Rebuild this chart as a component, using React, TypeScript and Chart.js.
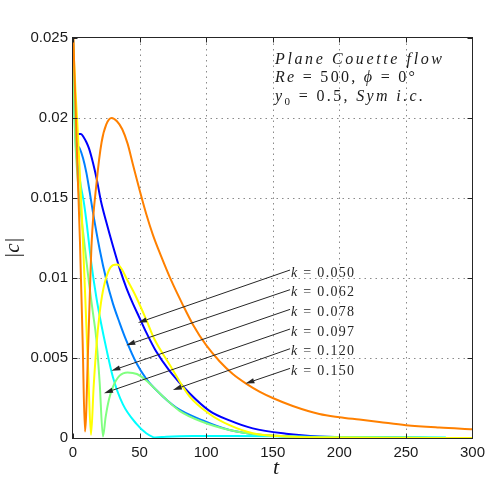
import { useEffect, useRef } from 'react';
import { Chart, registerables } from 'chart.js';

Chart.register(...registerables);

// ---------- data ----------
const xTicks = [0, 50, 100, 150, 200, 250, 300];
const xTickLabels = ['0', '50', '100', '150', '200', '250', '300'];
const yTicks = [0, 0.005, 0.01, 0.015, 0.02, 0.025];
const yTickLabels = ['0', '0.005', '0.01', '0.015', '0.02', '0.025'];

const kLabels = ['0.050', '0.062', '0.078', '0.097', '0.120', '0.150'];
const seriesColors = ['#0000ff', '#0080ff', '#00ffff', '#80ff80', '#ffff00', '#ff8000'];

const t050 = [0, 0.7, 1.5, 2.5, 4, 6, 8, 10, 12, 15, 18, 21, 25, 30, 35, 40, 45, 50, 55, 62.5, 72.5, 87.5, 102.5, 117.5, 135, 160, 185, 220, 250, 280];
const c050 = [0.025, 0.0225, 0.0203, 0.0192, 0.019, 0.019, 0.0188, 0.0185, 0.0181, 0.0172, 0.0161, 0.0148, 0.0135, 0.012, 0.0106, 0.0094, 0.0084, 0.0075, 0.0066, 0.0054, 0.0042, 0.0028, 0.0017, 0.0011, 0.0006, 0.00027, 0.0001, 0.00003, 0.00001, 0.000005];

const t062 = [0, 0.7, 1.5, 2.5, 5, 7.5, 10, 12.5, 15, 20, 25, 30, 35, 40, 47.5, 55, 62.5, 77.5, 97.5, 117.5, 140, 170, 210, 250, 280];
const c062 = [0.025, 0.0222, 0.0198, 0.0186, 0.0181, 0.0175, 0.0166, 0.0154, 0.0141, 0.0118, 0.0099, 0.0084, 0.0072, 0.0061, 0.0047, 0.0037, 0.003, 0.0019, 0.0011, 0.0005, 0.0002, 0.00008, 0.00003, 0.00001, 0.000005];

const t078 = [0, 0.7, 1.5, 2.5, 4, 6, 8, 10, 13.8, 17.5, 21, 25, 30, 37.5, 47.5, 55, 62, 70, 90, 120, 160, 200, 240, 280];
const c078 = [0.025, 0.0215, 0.0193, 0.0178, 0.0168, 0.0157, 0.0148, 0.0136, 0.0109, 0.0088, 0.0072, 0.0056, 0.0038, 0.0021, 0.0009, 0.0003, 0.00003, 0.00008, 0.00012, 0.00012, 0.0001, 0.00007, 0.00005, 0.00003];

const t097 = [0, 0.7, 1.5, 3, 5, 8.5, 12, 15, 17.5, 20, 22.5, 24.5, 27, 30, 35, 41, 48, 55, 65, 80, 97.5, 117.5, 140, 170, 210, 250, 280];
const c097 = [0.025, 0.0215, 0.019, 0.0168, 0.0148, 0.0122, 0.0097, 0.0078, 0.0062, 0.0035, 0.0001, 0.0013, 0.0024, 0.0032, 0.0039, 0.0041, 0.004, 0.0036, 0.0028, 0.0017, 0.001, 0.0005, 0.0002, 0.00008, 0.00003, 0.00001, 0.000005];

const t120 = [0, 1, 2, 3.5, 6.5, 9, 11.5, 13.5, 15.5, 17.75, 20, 22.5, 26.5, 30, 33.5, 37, 40, 47.5, 55, 61, 72.5, 87.5, 102.5, 117.5, 135, 160, 200, 250, 300];
const c120 = [0.025, 0.0232, 0.0215, 0.0193, 0.0142, 0.0092, 0.004, 0.0002, 0.0032, 0.0059, 0.0078, 0.0092, 0.0104, 0.0108, 0.01085, 0.0105, 0.01, 0.0088, 0.0074, 0.0062, 0.0046, 0.0026, 0.0015, 0.0008, 0.0003, 0.0001, 0.00003, 0.00001, 0.000005];

const t150 = [0, 1, 2, 3.5, 5.25, 7.25, 9, 11.5, 14, 17.75, 21.5, 25, 29, 33, 37, 41, 45, 50, 55, 60, 66, 74, 82, 90, 100, 110, 120, 130, 140, 150, 165, 185, 200, 215, 230, 250, 275, 300];
const c150 = [0.026, 0.023, 0.0205, 0.0165, 0.0122, 0.006, 0.0004, 0.006, 0.0122, 0.016, 0.0185, 0.0196, 0.02, 0.0198, 0.0193, 0.0184, 0.0171, 0.0155, 0.014, 0.0127, 0.0114, 0.0098, 0.0084, 0.0071, 0.0058, 0.0048, 0.004, 0.0034, 0.0029, 0.0025, 0.002, 0.0015, 0.0013, 0.00115, 0.001, 0.0008, 0.00065, 0.00054];

const seriesT = [t050, t062, t078, t097, t120, t150];
const seriesC = [c050, c062, c078, c097, c120, c150];

// annotation arrows (data coordinates)
const arrowStartT = 163;
const arrowStartC = [0.0105, 0.00927, 0.00804, 0.00681, 0.00558, 0.00435];
const arrowTipT = [48.75, 40, 28.8, 23.3, 75, 129.5];
const arrowTipC = [0.0072, 0.0058, 0.0042, 0.0028, 0.003, 0.0034];

const titleLine1 = 'Plane Couette flow';
const titleRe = 'Re';
const titleReVal = ' = 500, ';
const titlePhi = 'ϕ';
const titlePhiVal = ' = 0°';
const titleY = 'y';
const titleYSub = '0';
const titleYVal = ' = 0.5, ';
const titleSym = 'Sym i.c.';
const xTitle = 't';
const yTitle = '|c|';

// ---------- helpers ----------
type Seg = { s: string; it?: boolean; sub?: boolean };
const SERIF = '"Liberation Serif", "DejaVu Serif", serif';

function drawRuns(ctx: CanvasRenderingContext2D, segs: Seg[], x: number, y: number, size: number, targetW: number) {
  const fontFor = (g: Seg) => `${g.it ? 'italic ' : ''}${g.sub ? Math.round(size * 0.7) : size}px ${SERIF}`;
  let nat = 0;
  let n = 0;
  for (const g of segs) {
    ctx.font = fontFor(g);
    for (const ch of g.s) {
      nat += ctx.measureText(ch).width;
      n++;
    }
  }
  const sp = n > 1 ? (targetW - nat) / (n - 1) : 0;
  let cx = x;
  ctx.textAlign = 'left';
  ctx.textBaseline = 'alphabetic';
  for (const g of segs) {
    ctx.font = fontFor(g);
    for (const ch of g.s) {
      ctx.fillText(ch, cx, y + (g.sub ? size * 0.25 : 0));
      cx += ctx.measureText(ch).width + sp;
    }
  }
}

const gridPlugin = {
  id: 'dottedGrid',
  beforeDatasetsDraw(chart: any) {
    const { ctx, chartArea: a, scales } = chart;
    const xs = scales.x;
    const ys = scales.y;
    ctx.save();
    ctx.strokeStyle = '#8a8a8a';
    ctx.lineWidth = 1;
    ctx.setLineDash([1.5, 4]);
    for (const v of xTicks) {
      const px = Math.round(xs.getPixelForValue(v)) + 0.5;
      if (px <= a.left + 1 || px >= a.right - 1) continue;
      ctx.beginPath();
      ctx.moveTo(px, a.top);
      ctx.lineTo(px, a.bottom);
      ctx.stroke();
    }
    for (const v of yTicks) {
      const py = Math.round(ys.getPixelForValue(v)) + 0.5;
      if (py <= a.top + 1 || py >= a.bottom - 1) continue;
      ctx.beginPath();
      ctx.moveTo(a.left, py);
      ctx.lineTo(a.right, py);
      ctx.stroke();
    }
    ctx.restore();
  },
};

const overlayPlugin = {
  id: 'overlay',
  afterDatasetsDraw(chart: any) {
    const { ctx, chartArea: a, scales } = chart;
    const xs = scales.x;
    const ys = scales.y;
    ctx.save();
    // box
    ctx.strokeStyle = '#262626';
    ctx.lineWidth = 1;
    ctx.setLineDash([]);
    const L = Math.round(a.left) - 0.5;
    const R = Math.round(a.right) + 0.5;
    const T = Math.round(a.top) - 0.5;
    const B = Math.round(a.bottom) + 0.5;
    ctx.strokeRect(L, T, R - L, B - T);
    // inward ticks
    ctx.beginPath();
    for (const v of xTicks) {
      const px = Math.round(xs.getPixelForValue(v)) + 0.5;
      ctx.moveTo(px, B);
      ctx.lineTo(px, B - 5);
      ctx.moveTo(px, T);
      ctx.lineTo(px, T + 5);
    }
    for (const v of yTicks) {
      const py = Math.round(ys.getPixelForValue(v)) + 0.5;
      ctx.moveTo(L, py);
      ctx.lineTo(L + 5, py);
      ctx.moveTo(R, py);
      ctx.lineTo(R - 5, py);
    }
    ctx.stroke();

    // arrows + labels
    ctx.fillStyle = '#262626';
    ctx.strokeStyle = '#262626';
    for (let i = 0; i < kLabels.length; i++) {
      const sx = xs.getPixelForValue(arrowStartT);
      const sy = ys.getPixelForValue(arrowStartC[i]);
      const tx = xs.getPixelForValue(arrowTipT[i]);
      const ty = ys.getPixelForValue(arrowTipC[i]);
      const ang = Math.atan2(ty - sy, tx - sx);
      const hl = 9;
      const hw = 2.6;
      const bx = tx - hl * Math.cos(ang);
      const by = ty - hl * Math.sin(ang);
      ctx.lineWidth = 1;
      ctx.beginPath();
      ctx.moveTo(sx, sy);
      ctx.lineTo(bx, by);
      ctx.stroke();
      ctx.beginPath();
      ctx.moveTo(tx, ty);
      ctx.lineTo(bx + hw * Math.sin(ang), by - hw * Math.cos(ang));
      ctx.lineTo(bx - hw * Math.sin(ang), by + hw * Math.cos(ang));
      ctx.closePath();
      ctx.fill();
      drawRuns(ctx, [{ s: 'k', it: true }, { s: ' = ' + kLabels[i] }], sx + 1, sy + 6.5, 14, 63);
    }

    // title block
    ctx.fillStyle = '#1a1a1a';
    drawRuns(ctx, [{ s: titleLine1, it: true }], 275, 64, 16, 167);
    drawRuns(ctx, [{ s: titleRe, it: true }, { s: titleReVal }, { s: titlePhi, it: true }, { s: titlePhiVal }], 275, 82, 16, 140);
    drawRuns(ctx, [{ s: titleY, it: true }, { s: titleYSub, sub: true }, { s: titleYVal }, { s: titleSym, it: true }], 275, 101, 16, 148);

    // axis titles
    ctx.font = `italic 22px ${SERIF}`;
    ctx.textAlign = 'center';
    ctx.textBaseline = 'alphabetic';
    ctx.fillText(xTitle, 276, 474);
    ctx.translate(19, 248);
    ctx.rotate(-Math.PI / 2);
    ctx.font = `italic 21px ${SERIF}`;
    ctx.fillText(yTitle, 0, 0);
    ctx.restore();
  },
};

export default function App() {
  const ref = useRef<HTMLCanvasElement | null>(null);
  useEffect(() => {
    if (!ref.current) return;
    const datasets = seriesT.map((ts, i) => ({
      label: 'k = ' + kLabels[i],
      data: ts.map((t, j) => ({ x: t, y: seriesC[i][j] })),
      borderColor: seriesColors[i],
      backgroundColor: seriesColors[i],
      borderWidth: 2,
      pointRadius: 0,
      fill: false,
      cubicInterpolationMode: 'monotone' as const,
      order: seriesT.length - i,
    }));
    const chart = new Chart(ref.current, {
      type: 'line',
      data: { datasets },
      options: {
        responsive: false,
        maintainAspectRatio: false,
        devicePixelRatio: 1,
        animation: false,
        events: [],
        layout: { padding: { left: 0, top: 38, right: 18, bottom: 0 } },
        plugins: { legend: { display: false }, tooltip: { enabled: false } },
        scales: {
          x: {
            type: 'linear',
            min: 0,
            max: 300,
            grid: { display: false, drawTicks: false },
            border: { display: false },
            afterBuildTicks: (s: any) => {
              s.ticks = xTicks.map((v) => ({ value: v }));
            },
            afterFit: (s: any) => {
              s.height = 53;
            },
            ticks: {
              autoSkip: false,
              maxRotation: 0,
              padding: 6,
              color: '#1a1a1a',
              font: { family: '"Liberation Sans", Arial, sans-serif', size: 15 },
              callback: (_v: any, i: number) => xTickLabels[i],
            },
          },
          y: {
            type: 'linear',
            min: 0,
            max: 0.025,
            grid: { display: false, drawTicks: false },
            border: { display: false },
            afterBuildTicks: (s: any) => {
              s.ticks = yTicks.map((v) => ({ value: v }));
            },
            afterFit: (s: any) => {
              s.width = 73;
            },
            ticks: {
              autoSkip: false,
              padding: 5,
              color: '#1a1a1a',
              font: { family: '"Liberation Sans", Arial, sans-serif', size: 15 },
              callback: (_v: any, i: number) => yTickLabels[i],
            },
          },
        },
      },
      plugins: [gridPlugin, overlayPlugin],
    });
    return () => chart.destroy();
  }, []);
  return (
    <div style={{ position: 'absolute', left: 0, top: 0, width: 491, height: 491, background: '#fff' }}>
      <canvas ref={ref} width={491} height={491} style={{ width: 491, height: 491, display: 'block' }} />
    </div>
  );
}
